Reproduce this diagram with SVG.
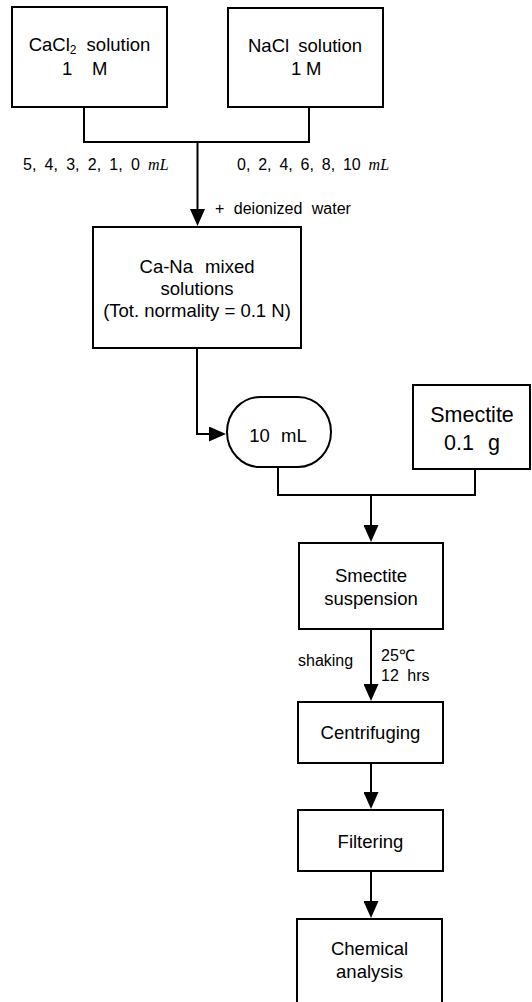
<svg xmlns="http://www.w3.org/2000/svg" width="532" height="1002" viewBox="0 0 532 1002">
<style>
.box{fill:#fff;stroke:#000;stroke-width:2}
.ln{fill:none;stroke:#000;stroke-width:2}
.t{font-family:"Liberation Sans",Arial,sans-serif;font-size:18.5px;fill:#000;text-anchor:middle}
.ts{font-family:"Liberation Sans",Arial,sans-serif;font-size:18.5px;fill:#000}
.lb{font-family:"Liberation Sans",Arial,sans-serif;font-size:16px;fill:#000}
.it{font-family:"Liberation Serif","Times New Roman",serif;font-style:italic}
</style>
<defs>
<marker id="ah" markerUnits="userSpaceOnUse" markerWidth="17" markerHeight="15" refX="9" refY="7.5" orient="auto">
<path d="M0,0 L17,7.5 L0,15 Z" fill="#000"/>
</marker>
</defs>
<rect width="532" height="1002" fill="#fff"/>
<g id="connectors">
<path class="ln" d="M84,107 V142 H309 V107"/>
<path class="ln" d="M197.5,142 V218" marker-end="url(#ah)"/>
<path class="ln" d="M197,348 V434 H218" marker-end="url(#ah)"/>
<path class="ln" d="M278,467 V495 H475 V469"/>
<path class="ln" d="M371,495 V534" marker-end="url(#ah)"/>
<path class="ln" d="M371,629 V693" marker-end="url(#ah)"/>
<path class="ln" d="M371,763 V801" marker-end="url(#ah)"/>
<path class="ln" d="M371,871 V910" marker-end="url(#ah)"/>
<text class="lb" x="23" y="170" style="word-spacing:3.8px">5, 4, 3, 2, 1, 0 <tspan class="it">mL</tspan></text>
<text class="lb" x="237" y="170" style="word-spacing:3.4px">0, 2, 4, 6, 8, 10 <tspan class="it">mL</tspan></text>
<text class="lb" x="215" y="214" style="word-spacing:5px">+ deionized water</text>
<text class="lb" x="298" y="666">shaking</text>
<text class="lb" x="381" y="661">25℃</text>
<text class="lb" x="381" y="681" style="word-spacing:4px">12 hrs</text>
</g>
<g id="cacl2">
<rect class="box" x="12" y="7" width="155" height="100"/>
<text class="t" x="89.5" y="51" style="word-spacing:5px">CaCl<tspan font-size="12" dy="3">2</tspan><tspan dy="-3"> solution</tspan></text>
<text class="ts" y="75"><tspan x="62">1</tspan><tspan x="92">M</tspan></text>
</g>
<g id="nacl">
<rect class="box" x="228" y="8" width="155" height="99"/>
<text class="t" x="305" y="52" style="word-spacing:4px">NaCl solution</text>
<text class="ts" y="75"><tspan x="291">1</tspan><tspan x="306">M</tspan></text>
</g>
<g id="mixed">
<rect class="box" x="93" y="227" width="208" height="121"/>
<text class="t" x="197" y="273" style="word-spacing:7px">Ca-Na mixed</text>
<text class="t" x="197" y="295">solutions</text>
<text class="t" x="197" y="317">(Tot. normality = 0.1 N)</text>
</g>
<g id="vol">
<rect class="box" x="227" y="397" width="104" height="70" rx="33" ry="35"/>
<text class="t" x="278" y="442" style="word-spacing:6px">10 mL</text>
</g>
<g id="smectite">
<rect class="box" x="413" y="385" width="117" height="84"/>
<text class="t" x="472" y="422" style="font-size:21.5px">Smectite</text>
<text class="t" x="472" y="450" style="font-size:21.5px;word-spacing:8px">0.1 g</text>
</g>
<g id="suspension">
<rect class="box" x="299" y="543" width="144" height="86"/>
<text class="t" x="371" y="582">Smectite</text>
<text class="t" x="371" y="605">suspension</text>
</g>
<g id="centrifuging">
<rect class="box" x="298" y="702" width="145" height="61"/>
<text class="t" x="370.5" y="739">Centrifuging</text>
</g>
<g id="filtering">
<rect class="box" x="298" y="810" width="145" height="61"/>
<text class="t" x="370.5" y="848">Filtering</text>
</g>
<g id="analysis">
<rect class="box" x="297" y="919" width="145" height="90"/>
<text class="t" x="369.5" y="955">Chemical</text>
<text class="t" x="369.5" y="978">analysis</text>
</g>
</svg>
